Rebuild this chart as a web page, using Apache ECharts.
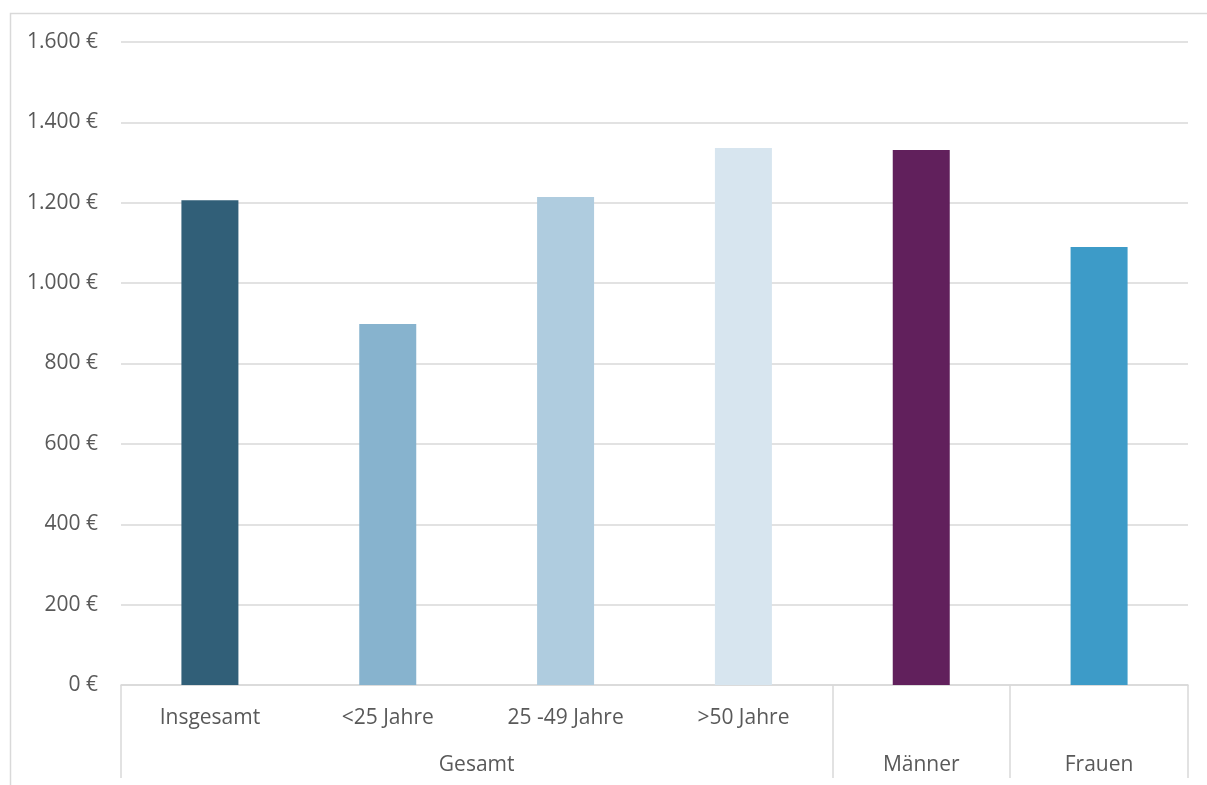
<!DOCTYPE html>
<html>
<head>
<meta charset="utf-8">
<script src="https://cdn.jsdelivr.net/npm/echarts@6/dist/echarts.min.js"></script>
<style>
html,body{margin:0;padding:0;background:#fff;}
#chart{width:1207px;height:785px;}
</style>
</head>
<body>
<div id="chart"></div>
<script>
const categories = ["Insgesamt", "<25 Jahre", "25 -49 Jahre", ">50 Jahre", "", ""];
const values = [1206, 898, 1214, 1336, 1331, 1090];
const barColors = ["#315F78", "#87B3CE", "#AFCCDF", "#D7E5EF", "#61205C", "#3D9BC8"];
const groups = ["Gesamt", "Männer", "Frauen"];
const groupSpans = [4, 1, 1];
const yTicks = [0, 200, 400, 600, 800, 1000, 1200, 1400, 1600];

const groupBounds = [0];
groupSpans.forEach(s => groupBounds.push(groupBounds[groupBounds.length - 1] + s));
const groupCenters = groupSpans.map((s, i) => groupBounds[i] + s / 2);

const FONT = "Open Sans";
const FS = 21;
const TXT = "#595959";
const LINE = "#d9d9d9";

const chart = echarts.init(document.getElementById('chart'));
chart.setOption({
  animation: false,
  textStyle: { fontFamily: FONT },
  grid: { left: 121, right: 19, top: 42, bottom: 100, containLabel: false },
  graphic: [{
    type: 'rect', left: 8, top: 11,
    shape: { width: 1300, height: 900 },
    style: { fill: 'none', stroke: LINE, lineWidth: 1.5 },
    silent: true, z: -1
  }],
  xAxis: [{
    type: 'category', data: categories, gridIndex: 0, position: 'bottom', offset: 0,
    axisLine: { show: false }, axisTick: { show: false },
    axisLabel: { color: TXT, fontSize: FS, fontFamily: FONT, margin: 23, interval: 0 }
  }, {
    type: 'value', gridIndex: 0, position: 'bottom', offset: 0,
    min: groupBounds[0], max: groupBounds[groupBounds.length - 1],
    splitLine: { show: false },
    axisLine: { show: true, lineStyle: { color: LINE, width: 1.5 } },
    axisTick: { show: true, customValues: groupBounds, length: 93, lineStyle: { color: LINE, width: 1.5 } },
    axisLabel: {
      show: true, customValues: groupCenters, color: TXT, fontSize: FS, fontFamily: FONT, margin: 70,
      formatter: v => { const i = groupCenters.indexOf(v); return i >= 0 ? groups[i] : ''; }
    }
  }],
  yAxis: {
    type: 'value', min: yTicks[0], max: yTicks[yTicks.length - 1], interval: 200,
    axisLine: { show: false }, axisTick: { show: false },
    splitLine: { lineStyle: { color: LINE, width: 1.5 } },
    axisLabel: {
      color: TXT, fontSize: FS, fontFamily: FONT, margin: 23,
      formatter: v => (v >= 1000 ? Math.floor(v / 1000) + '.' + String(v % 1000).padStart(3, '0') : String(v)) + ' €'
    }
  },
  series: [{
    type: 'bar', xAxisIndex: 0, yAxisIndex: 0, barWidth: 57,
    data: values.map((v, i) => ({ value: v, itemStyle: { color: barColors[i] } }))
  }]
});
</script>
</body>
</html>
